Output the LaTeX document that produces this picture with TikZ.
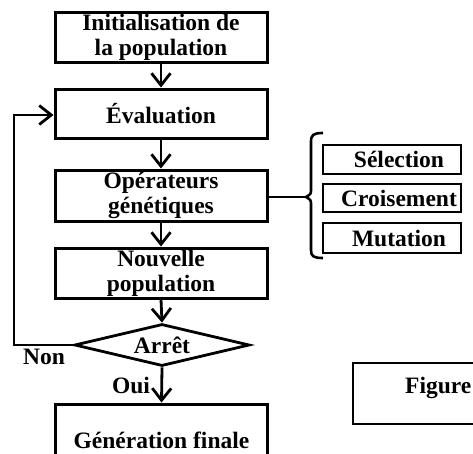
\documentclass[tikz,border=0pt]{standalone}
\usepackage{fontspec}
\setmainfont{Liberation Serif}
\usetikzlibrary{arrows.meta,shapes.geometric}
\begin{document}
\begin{tikzpicture}[x=1pt,y=-1pt,
  every node/.style={font=\bfseries\fontsize{23.5}{25}\selectfont},
  mainbox/.style={draw,line width=3pt,minimum width=212pt,inner sep=0pt,align=center},
  opbox/.style={draw,line width=2.6pt,minimum width=138pt,inner sep=0pt},
  conn/.style={line width=2.8pt},
  flow/.style={conn,-{Straight Barb[length=12pt,width=19pt,line width=2.8pt]}},
  lbl/.style={inner sep=0pt}]
  \useasboundingbox (0,0) rectangle (473,453);
  \clip (0,0) rectangle (473,453);

  % main chain of the algorithm
  \node[mainbox,minimum height=50pt] (init) at (161,37) {Initialisation de\\la population};
  \node[mainbox,minimum height=49pt] (eval) at (161,113.5) {Évaluation};
  \node[mainbox,minimum height=51pt] (ops) at (161,195.5) {Opérateurs\\génétiques};
  \node[mainbox,minimum height=50pt] (nouv) at (161,273) {Nouvelle\\population};
  \node[draw,diamond,line width=2.8pt,inner sep=0pt,shape aspect=4.2,
        minimum width=175pt,minimum height=42pt] (stop) at (162,345) {Arrêt};
  \node[mainbox,minimum height=72pt] (final) at (161.5,440) {Génération finale};

  \draw[flow] (init.south) -- (eval.north);
  \draw[flow] (eval.south) -- (ops.north);
  \draw[flow] (ops.south) -- (nouv.north);
  \draw[flow] (nouv.south) -- (stop.north);
  \draw[flow] (stop.south) -- (final.north);

  % return loop when the stop test fails
  \coordinate (loopb) at (14,345);
  \coordinate (loopt) at (14,115);
  \draw[flow] (stop.west) -- (loopb) -- (loopt) -- (eval.west |- loopt);

  \node[lbl] (non) at (44,357) {Non};
  \node[lbl] (oui) at (131,385) {Oui};

  % genetic operators
  \node[opbox,minimum height=29pt] (sel) at (392,159.5) {\hspace*{14pt}Sélection};
  \node[opbox,minimum height=28pt] (cro) at (392,198) {\hspace*{14pt}Croisement};
  \node[opbox,minimum height=30pt] (mut) at (392,238) {\hspace*{14pt}Mutation};

  \coordinate (tip) at (306,197);
  \draw[line width=2.6pt,line join=round]
    (323,133) .. controls (313,133) and (311,135) .. (311,142)
    -- (311,189) .. controls (311,194) .. (tip)
    .. controls (311,200) .. (311,205)
    -- (311,250) .. controls (311,256) and (313,258) .. (323,258);
  \draw[conn] (ops.east |- tip) -- (tip);

  % caption frame
  \draw[line width=2.8pt] (480,363) -- (353,363) -- (353,424) -- (480,424);
  \node[lbl,anchor=west] (fig) at (405,388) {Figure};
\end{tikzpicture}
\end{document}
